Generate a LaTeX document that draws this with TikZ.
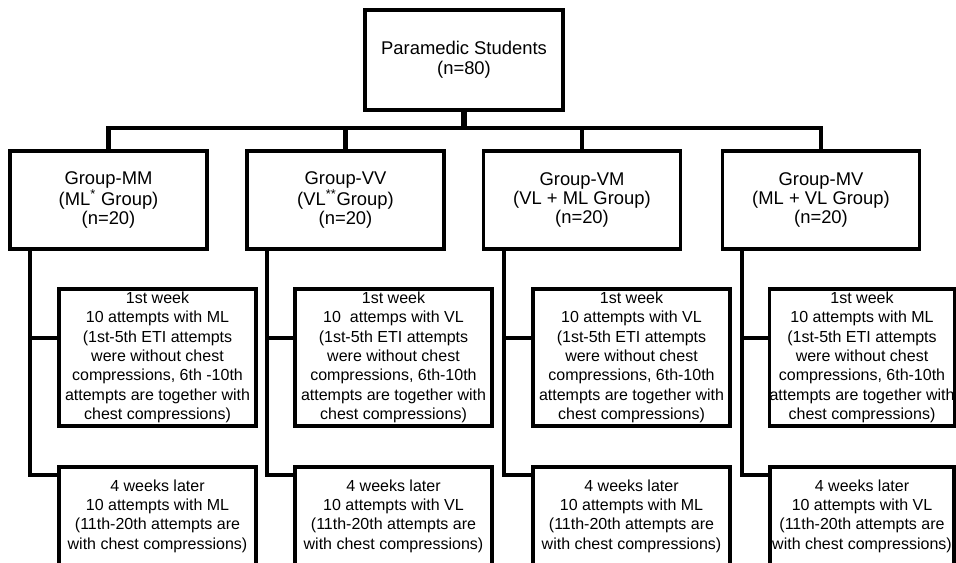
\documentclass[tikz,border=0pt]{standalone}
\usepackage{fontspec}
\setmainfont{Liberation Sans}
\usepackage{amsmath}

\begin{document}
\begin{tikzpicture}[x=0.75pt,y=-0.75pt,
  box/.style={draw=black,line width=2.6pt,inner sep=0pt,align=center},
  topbox/.style={box,minimum width=148.5pt,minimum height=75pt,font=\fontsize{13.8}{15}\selectfont},
  groupbox/.style={box,minimum width=147.75pt,minimum height=73.5pt,font=\fontsize{13.8}{14.5}\selectfont},
  weekbox/.style={box,minimum width=147.75pt,minimum height=102.75pt,font=\fontsize{12}{14.5}\selectfont},
  laterbox/.style={box,minimum width=147.75pt,minimum height=73.5pt,font=\fontsize{12}{14.5}\selectfont},
  trunk/.style={line width=3.2pt},
  branch/.style={line width=2.5pt}]
\useasboundingbox (0,0) rectangle (956,562);
\clip (0,0) rectangle (956,562);
% top
\node[topbox] (students) at (464,60) {Paramedic Students\\(n=80)};
% groups
\node[groupbox] (g1) at (108.5,200) {Group-MM\\(ML\textsuperscript{*} Group)\\(n=20)};
\node[groupbox] (g2) at (345.5,200) {Group-VV\\(VL\textsuperscript{**}Group)\\(n=20)};
\node[groupbox] (g3) at (582,200) {Group-VM\\(VL + ML Group)\\(n=20)};
\node[groupbox] (g4) at (821,200) {Group-MV\\(ML + VL Group)\\(n=20)};
% 1st week
\node[weekbox] (w1) at (157.5,357.5) {1st week\\10 attempts with ML\\(1st-5th ETI attempts\\were without chest\\compressions, 6th -10th\\attempts are together with\\chest compressions)};
\node[weekbox] (w2) at (393.5,357.5) {1st week\\10~ attemps with VL\\(1st-5th ETI attempts\\were without chest\\compressions, 6th-10th\\attempts are together with\\chest compressions)};
\node[weekbox] (w3) at (631.5,357.5) {1st week\\10 attempts with VL\\(1st-5th ETI attempts\\were without chest\\compressions, 6th-10th\\attempts are together with\\chest compressions)};
\node[weekbox,minimum width=138pt] (w4) at (862,357.5) {1st week\\10 attempts with ML\\(1st-5th ETI attempts\\were without chest\\compressions, 6th-10th\\attempts are together with\\chest compressions)};
% 4 weeks later
\node[laterbox] (l1) at (157.5,516) {4 weeks later\\10 attempts with ML\\(11th-20th attempts are\\with chest compressions)};
\node[laterbox] (l2) at (393.5,516) {4 weeks later\\10 attempts with VL\\(11th-20th attempts are\\with chest compressions)};
\node[laterbox] (l3) at (631.5,516) {4 weeks later\\10 attempts with ML\\(11th-20th attempts are\\with chest compressions)};
\node[laterbox,minimum width=138pt] (l4) at (862,516) {4 weeks later\\10 attempts with VL\\(11th-20th attempts are\\with chest compressions)};
% bus
\coordinate (bus) at (464,128);
\draw[line width=3.8pt] (students.south) -- (bus);
\draw[trunk] (g1.north) |- (bus) -| (g4.north);
\draw[trunk] (g2.north) -- (g2.north |- bus);
\draw[trunk] (g3.north) -- (g3.north |- bus);
% trunks
\foreach \c/\x in {1/30,2/267,3/504,4/742} {
  \coordinate (j\c) at (\x,338);
  \coordinate (k\c) at (\x,475);
  \draw[trunk] (g\c.south -| k\c) -- (k\c) -- (k\c -| l\c.west);
  \draw[branch] (j\c) -- (j\c -| w\c.west);
}
\end{tikzpicture}
\end{document}
